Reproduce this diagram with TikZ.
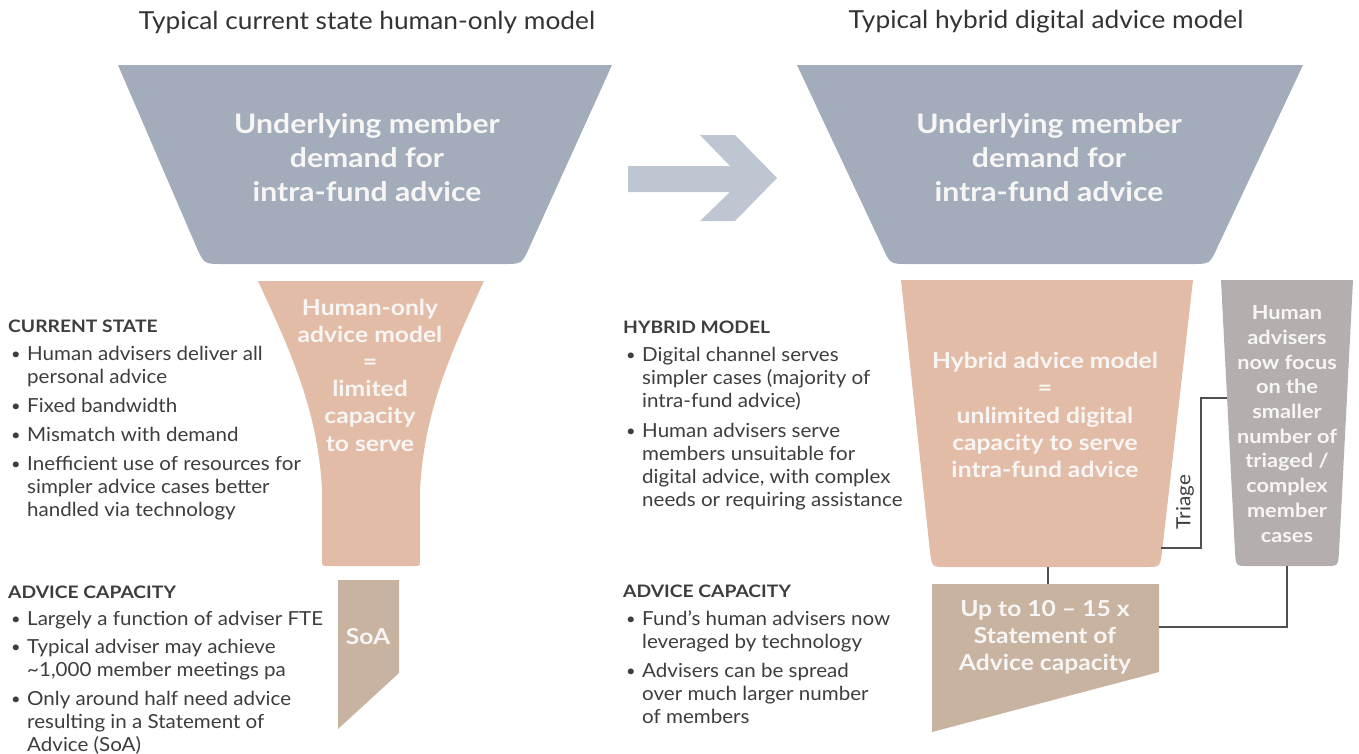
\documentclass[tikz,border=0pt]{standalone}
\usepackage{fontspec}
\setmainfont{Lato}[FakeStretch=1.06, BoldFeatures={FakeStretch=1.12}]
\usetikzlibrary{calc}

\definecolor{funnelgrey}{HTML}{A2ACBB}
\definecolor{arrowgrey}{HTML}{BEC6D1}
\definecolor{peach}{HTML}{E2BCA6}
\definecolor{soatan}{HTML}{C8B3A0}
\definecolor{taupe}{HTML}{B4AEAE}
\definecolor{ink}{HTML}{3D3D3D}
\definecolor{headink}{HTML}{333333}
\definecolor{wire}{HTML}{505050}
\definecolor{paper}{HTML}{F8F6F4}

\newcommand{\bul}{\hspace*{3pt}\makebox[16pt][l]{\raisebox{1pt}{\scalebox{0.8}{•}}}}
\newcommand{\cnt}{\hspace*{19pt}}
\newcommand{\hdg}[1]{{\bfseries\fontsize{17.2}{23}\selectfont #1}}

\begin{document}
\begin{tikzpicture}[x=1pt,y=-1pt,
  title/.style={text=headink, font=\fontsize{24.8}{28}\selectfont, inner sep=0pt},
  body/.style={text=ink, font=\fontsize{19.4}{23}\selectfont, align=left, inner sep=0pt, anchor=base west},
  bigtext/.style={text=paper, font=\bfseries\fontsize{26.9}{34}\selectfont, align=center, inner sep=0pt},
  midtext/.style={text=paper, font=\bfseries\fontsize{22}{27.2}\selectfont, align=center, inner sep=0pt},
  smalltext/.style={text=paper, font=\bfseries\fontsize{19.4}{24.7}\selectfont, align=center, inner sep=0pt},
  wireline/.style={draw=wire, line width=1.3pt}]

\useasboundingbox (0,0) rectangle (1359,753);

% ---------- headings ----------
\node[title] (tleft) at (367,22) {Typical current state human-only model};
\node[title] (tright) at (1046,22) {Typical hybrid digital advice model};

% ---------- left: demand funnel ----------
\fill[funnelgrey] (118,65) -- (612,65) -- (530,246) .. controls (522,264) .. (504,264)
  -- (222,264) .. controls (204,264) .. (196,246) -- cycle;
\node[bigtext] (demandL) at (367,158) {Underlying member\\demand for\\intra-fund advice};

% ---------- left: human-only neck ----------
\fill[peach] (258,281) -- (484,281) .. controls (452,350) and (424,410) .. (420,490)
  -- (420,560) .. controls (420,566) .. (414,566) -- (328,566)
  .. controls (322,566) .. (322,560) -- (322,490)
  .. controls (318,410) and (290,350) .. (258,281) -- cycle;
\node[midtext] (humanonly) at (370,375) {Human-only\\advice model\\=\\limited\\capacity\\to serve};

% ---------- left: SoA outlet ----------
\fill[soatan] (338,580) -- (399,580) -- (399,673) -- (338,729) -- cycle;
\node[midtext] (soa) at (368,637) {SoA};

% ---------- transition arrow ----------
\fill[arrowgrey] (628,166) -- (730,166) -- (700,135) -- (735,135) -- (777,178)
  -- (735,221) -- (700,221) -- (730,192) -- (628,192) -- cycle;

% ---------- right: demand funnel ----------
\fill[funnelgrey] (797,65) -- (1303,65) -- (1218,246) .. controls (1210,264) .. (1192,264)
  -- (908,264) .. controls (890,264) .. (882,246) -- cycle;
\node[bigtext] (demandR) at (1049,158) {Underlying member\\demand for\\intra-fund advice};

% ---------- right: hybrid channel ----------
\fill[peach] (901,280) -- (1193,280) -- (1162,552) .. controls (1160,567) .. (1146,567)
  -- (946,567) .. controls (932,567) .. (930,552) -- cycle;
\node[midtext] (hybrid) at (1045,415) {Hybrid advice model\\=\\unlimited digital\\capacity to serve\\intra-fund advice};

% ---------- right: human adviser channel ----------
\fill[taupe] (1221,280) -- (1353,280) -- (1339,552) .. controls (1338,566) .. (1326,566)
  -- (1248,566) .. controls (1236,566) .. (1235,552) -- cycle;
\node[smalltext] (advisers) at (1287,424) {Human\\advisers\\now focus\\on the\\smaller\\number of\\triaged /\\complex\\member\\cases};

% ---------- right: SoA capacity ----------
\fill[soatan] (932,584) -- (1159,584) -- (1159,672) -- (932,732) -- cycle;
\node[midtext] (capacity) at (1045,637) {Up to 10 – 15 x\\Statement of\\Advice capacity};

% ---------- connector anchor points ----------
\coordinate (hybridSide) at (1161,548);
\coordinate (advSide) at (1227,398);
\coordinate (hybridBase) at (1048,567);
\coordinate (capTop) at (1048,584);
\coordinate (advBase) at (1287,566);
\coordinate (capSide) at (1159,627);

\draw[wireline] (hybridSide) -- (1201,548) -- (1201,398) -- (advSide);
\draw[wireline] (hybridBase) -- (capTop);
\draw[wireline] (advBase) |- (capSide);
\node[text=ink, font=\fontsize{19.5}{20}\selectfont, rotate=90, inner sep=0pt] (triage) at (1185,502) {Triage};

% ---------- left notes (anchored at the baseline of the last line) ----------
\node[body] (curstate) at (8,516) {\hdg{CURRENT STATE}\\[5pt]
\bul Human advisers deliver all\\
\cnt personal advice\\[6pt]
\bul Fixed bandwidth\\[6pt]
\bul Mismatch with demand\\[6pt]
\bul Inefficient use of resources for\\
\cnt simpler advice cases better\\
\cnt handled via technology};

\node[body] (capleft) at (8,751) {\hdg{ADVICE CAPACITY}\\[4pt]
\bul Largely a function of adviser FTE\\[5pt]
\bul Typical adviser may achieve\\
\cnt \textasciitilde 1,000 member meetings pa\\[6pt]
\bul Only around half need advice\\
\cnt resulting in a Statement of\\
\cnt Advice (SoA)};

% ---------- right notes ----------
\node[body] (hybmodel) at (623,506) {\hdg{HYBRID MODEL}\\[5pt]
\bul Digital channel serves\\
\cnt simpler cases (majority of\\
\cnt intra-fund advice)\\[7pt]
\bul Human advisers serve\\
\cnt members unsuitable for\\
\cnt digital advice, with complex\\
\cnt needs or requiring assistance};

\node[body] (capright) at (623,723) {\hdg{ADVICE CAPACITY}\\[5pt]
\bul Fund’s human advisers now\\
\cnt leveraged by technology\\[6pt]
\bul Advisers can be spread\\
\cnt over much larger number\\
\cnt of members};

\end{tikzpicture}
\end{document}
